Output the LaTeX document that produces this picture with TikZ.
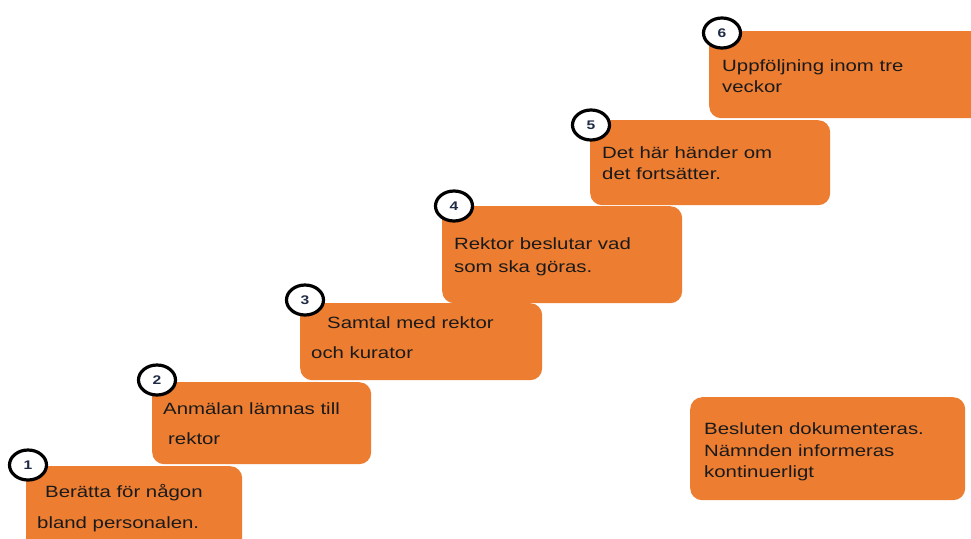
\documentclass[tikz,border=0pt]{standalone}
\usepackage{fontspec}
\setmainfont{Liberation Sans}[FakeStretch=1.25]
\usetikzlibrary{shapes.geometric}
\definecolor{boxorange}{HTML}{ED7D31}
\definecolor{txt}{HTML}{1A1A1A}
\definecolor{numc}{HTML}{1F2A44}
\tikzset{
  stepbox/.style={draw=none, fill=boxorange, rounded corners=12pt, anchor=north west, inner sep=0pt},
  numcirc/.style={ellipse, draw=black, line width=3.2pt, fill=white, minimum width=37pt, minimum height=30pt, inner sep=0pt, text=numc, font=\fontsize{12.5pt}{12.5pt}\selectfont\bfseries},
  line/.style={anchor=base west, inner sep=0pt, text=txt, font=\fontsize{16.3pt}{20pt}\selectfont}
}
\begin{document}
\begin{tikzpicture}[x=1pt,y=-1pt]
\clip (0,0) rectangle (971,538);
\fill[white] (0,0) rectangle (971,538);
% boxes
\node[stepbox, minimum width=216pt, minimum height=85pt] (b1) at (26,466) {};
\node[stepbox, minimum width=219pt, minimum height=82pt] (b2) at (152,382) {};
\node[stepbox, minimum width=242pt, minimum height=77pt] (b3) at (300,303) {};
\node[stepbox, minimum width=240pt, minimum height=97pt] (b4) at (442,206) {};
\node[stepbox, minimum width=240pt, minimum height=85pt] (b5) at (590,120) {};
\node[stepbox, minimum width=285pt, minimum height=87pt] (b6) at (709,31) {};
\node[stepbox, minimum width=275pt, minimum height=103pt] (b7) at (690,397) {};
% number circles
\node[numcirc] (c1) at (28,465) {1};
\node[numcirc] (c2) at (157,380) {2};
\node[numcirc] (c3) at (305,300) {3};
\node[numcirc] (c4) at (454,206) {4};
\node[numcirc] (c5) at (591,125) {5};
\node[numcirc] (c6) at (722,33) {6};
% texts
\node[line] (t1a) at (45,497) {Berätta för någon};
\node[line] (t1b) at (37,528) {bland personalen.};
\node[line] (t2a) at (163,414) {Anmälan lämnas till};
\node[line] (t2b) at (168,444) {rektor};
\node[line] (t3a) at (327,328) {Samtal med rektor};
\node[line] (t3b) at (311,358) {och kurator};
\node[line] (t4a) at (454,249) {Rektor beslutar vad};
\node[line] (t4b) at (454,272) {som ska göras.};
\node[line] (t5a) at (602,158) {Det här händer om};
\node[line] (t5b) at (602,179) {det fortsätter.};
\node[line] (t6a) at (722,71) {Uppföljning inom tre};
\node[line] (t6b) at (722,92) {veckor};
\node[line] (t7a) at (704,434) {Besluten dokumenteras.};
\node[line] (t7b) at (704,456) {Nämnden informeras};
\node[line] (t7c) at (704,477) {kontinuerligt};
\end{tikzpicture}
\end{document}
